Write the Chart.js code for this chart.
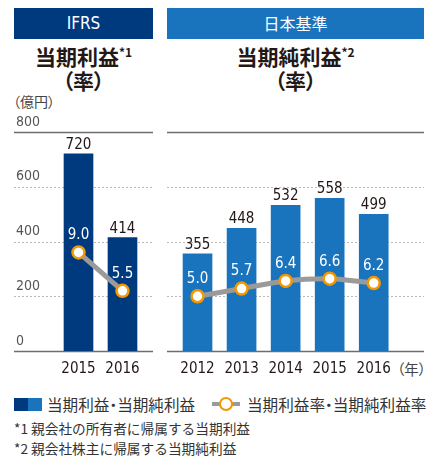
<!DOCTYPE html>
<html>
<head>
<meta charset="utf-8">
<script src="https://cdn.jsdelivr.net/npm/chart.js@4.4.1/dist/chart.umd.min.js"></script>
<style>
  body { margin: 0; width: 432px; height: 456px; position: relative; background: #fff; overflow: hidden;
         font-family: "Noto Sans CJK JP", sans-serif; color: #231815; }
  .abs { position: absolute; }
  .head { top: 8px; height: 31px; line-height: 31px; color: #fff; text-align: center; font-size: 17px; }
  .title { top: 44px; line-height: 24px; text-align: center; font-size: 21px; font-weight: bold; font-feature-settings: "palt"; }
  .title sup { font-size: 12px; vertical-align: 8px; line-height: 0; }
  .num { font-family: "Liberation Sans Narrow", "DejaVu Sans Condensed", sans-serif; }
  .unit { font-size: 14px; color: #444; font-feature-settings: "palt"; }
  .legend { top: 393px; font-size: 15.6px; line-height: 22px; color: #333; font-feature-settings: "palt"; }
  .note { left: 14px; font-size: 13.7px; line-height: 18px; color: #333; }
</style>
</head>
<body>
<div class="abs head num" style="left:14px;width:139px;background:#003a7e;">IFRS</div>
<div class="abs head" style="left:167px;width:257px;background:#1a74bd;font-size:16px;">日本基準</div>

<div class="abs title" style="left:14px;width:139px;">当期利益<sup>*1</sup><br>（率）</div>
<div class="abs title" style="left:167px;width:257px;">当期純利益<sup>*2</sup><br>（率）</div>

<div class="abs unit" style="left:13px;top:91px;">（億円）</div>
<div class="abs unit" style="left:397px;top:358px;font-size:14.5px;">（年）</div>

<canvas id="ifrsChart" class="abs" width="139" height="270" style="left:14px;top:110px;"></canvas>
<canvas id="jgaapChart" class="abs" width="257" height="270" style="left:167px;top:110px;"></canvas>

<div class="abs" style="left:14px;top:398px;width:14px;height:13px;background:#003a7e;"></div>
<div class="abs" style="left:28px;top:398px;width:14px;height:13px;background:#1a74bd;"></div>
<div class="abs legend" style="left:47px;">当期利益・当期純利益</div>
<div class="abs" style="left:212px;top:402px;width:28px;height:4px;background:#9a9a9a;"></div>
<div class="abs" style="left:219px;top:397px;width:10px;height:10px;border:2.5px solid #f39800;border-radius:50%;background:#fff;"></div>
<div class="abs legend" style="left:247px;">当期利益率・当期純利益率</div>

<div class="abs note" style="top:419px;">*1 親会社の所有者に帰属する当期利益</div>
<div class="abs note" style="top:439px;">*2 親会社株主に帰属する当期純利益</div>

<script>
// IFRS (left panel)
const ifrsYears = ['2015', '2016'];
const ifrsProfit = [720, 414];
const ifrsRate = [9.0, 5.5];

// 日本基準 (right panel)
const jgaapYears = ['2012', '2013', '2014', '2015', '2016'];
const jgaapProfit = [355, 448, 532, 558, 499];
const jgaapRate = [5.0, 5.7, 6.4, 6.6, 6.2];

const yTicks = [0, 200, 400, 600, 800];

const numFont = '"Liberation Sans Narrow", "DejaVu Sans Condensed", sans-serif';

// dotted grid across the whole panel, solid top and bottom lines
const gridLines = {
  id: 'gridLines',
  beforeDatasetsDraw(chart) {
    const ctx = chart.ctx, y = chart.scales.y;
    ctx.save();
    yTicks.forEach(function (v) {
      const py = Math.round(y.getPixelForValue(v)) + 0.5;
      const edge = v === 0 || v === 800;
      ctx.beginPath();
      ctx.setLineDash(edge ? [] : [2, 2]);
      ctx.strokeStyle = edge ? '#6d6d6d' : '#b8b8b8';
      ctx.lineWidth = edge ? 1.5 : 1;
      ctx.moveTo(0, py);
      ctx.lineTo(chart.width, py);
      ctx.stroke();
    });
    ctx.restore();
  }
};

// numbers on top of the bars and above the rate points
const valueLabels = {
  id: 'valueLabels',
  afterDatasetsDraw(chart) {
    const ctx = chart.ctx;
    ctx.save();
    ctx.textAlign = 'center';
    ctx.textBaseline = 'middle';
    ctx.font = '15px ' + numFont;
    ctx.fillStyle = '#231815';
    const bars = chart.data.datasets[1].data;
    chart.getDatasetMeta(1).data.forEach(function (bar, i) {
      ctx.fillText(String(bars[i]), bar.x, bar.y - 9);
    });
    ctx.fillStyle = '#ffffff';
    const rates = chart.data.datasets[0].data;
    chart.getDatasetMeta(0).data.forEach(function (pt, i) {
      ctx.fillText(rates[i].toFixed(1), pt.x, pt.y - 17);
    });
    ctx.restore();
  }
};

function makeChart (id, years, profit, rate, barColor, pad, showY) {
  return new Chart(document.getElementById(id), {
    type: 'bar',
    data: {
      labels: years,
      datasets: [{
        type: 'line',
        data: rate,
        yAxisID: 'y2',
        borderColor: '#9a9a9a',
        borderWidth: 5,
        tension: 0.3,
        pointRadius: 6,
        pointBorderWidth: 2.5,
        pointBackgroundColor: '#ffffff',
        pointBorderColor: '#f39800',
        clip: false,
      }, {
        type: 'bar',
        data: profit,
        yAxisID: 'y',
        backgroundColor: barColor,
        barThickness: 29,
      }],
    },
    options: {
      responsive: false,
      animation: false,
      events: [],
      layout: { padding: pad },
      plugins: { legend: { display: false }, tooltip: { enabled: false } },
      scales: {
        x: {
          grid: { display: false, drawTicks: false },
          border: { display: false },
          ticks: { color: '#231815', padding: 9, maxRotation: 0, autoSkip: false,
                   font: { family: numFont, size: 15 } },
          afterFit: function (s) { s.height = 29 },
        },
        y: {
          display: showY,
          min: 0,
          max: 800,
          grid: { display: false, drawTicks: false },
          border: { display: false },
          ticks: { stepSize: 200, crossAlign: 'far', labelOffset: -10, padding: 0,
                   color: '#555', font: { family: numFont, size: 14 } },
          afterFit: function (s) { s.width = showY ? 40.5 : 0 },
        },
        y2: { display: false, min: 0, max: 20 },
      },
    },
    plugins: [gridLines, valueLabels],
  });
}

makeChart('ifrsChart', ifrsYears, ifrsProfit, ifrsRate, '#003a7e',
  { left: 2, right: 8.5, top: 22, bottom: 0 }, true);
makeChart('jgaapChart', jgaapYears, jgaapProfit, jgaapRate, '#1a74bd',
  { left: 6.25, right: 28.25, top: 22, bottom: 0 }, false);
</script>
</body>
</html>
